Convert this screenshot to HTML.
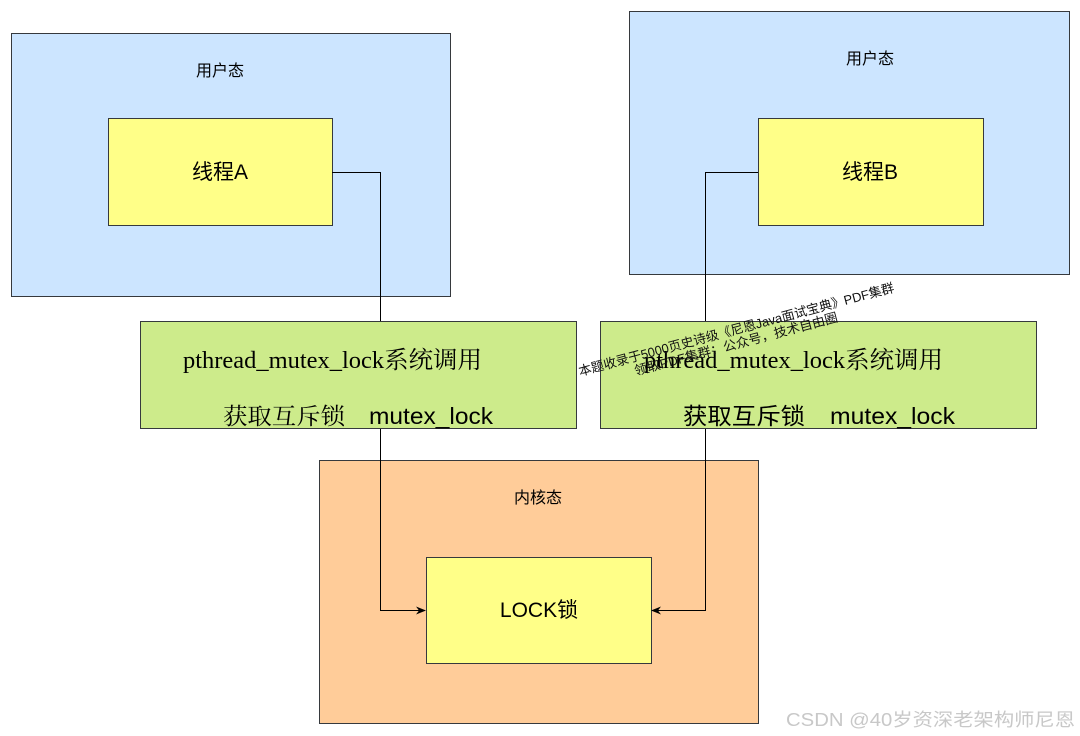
<!DOCTYPE html>
<html><head><meta charset="utf-8"><style>
html,body{margin:0;padding:0;background:#fff;}
svg{display:block;}
.s{font-family:"Liberation Sans","Noto Sans CJK SC",sans-serif;}
.t{font-family:"Liberation Serif","Noto Serif CJK SC",serif;}
</style></head><body>
<svg width="1080" height="736" viewBox="0 0 1080 736" xmlns="http://www.w3.org/2000/svg">
<defs><marker id="ar" markerWidth="10" markerHeight="10" refX="9" refY="5" orient="auto" markerUnits="userSpaceOnUse"><path d="M0,1 L10,5 L0,9 L3,5 z" fill="#000"/></marker></defs>
<rect x="11.5" y="33.5" width="439" height="263" fill="#cce5ff" stroke="#36393d"/>
<rect x="629.5" y="11.5" width="440" height="263" fill="#cce5ff" stroke="#36393d"/>
<text x="220" y="76" class="s" font-size="16" text-anchor="middle">用户态</text>
<text x="870" y="64" class="s" font-size="16" text-anchor="middle">用户态</text>
<rect x="108.5" y="118.5" width="224" height="107" fill="#ffff88" stroke="#36393d"/>
<rect x="758.5" y="118.5" width="225" height="107" fill="#ffff88" stroke="#36393d"/>
<text x="220" y="179" class="s" font-size="21" text-anchor="middle">线程A</text>
<text x="870" y="179" class="s" font-size="21" text-anchor="middle">线程B</text>
<rect x="319.5" y="460.5" width="439" height="263" fill="#ffcc99" stroke="#36393d"/>
<text x="538" y="503" class="s" font-size="16" text-anchor="middle">内核态</text>
<rect x="426.5" y="557.5" width="225" height="106" fill="#ffff88" stroke="#36393d"/>
<text x="539" y="617" class="s" font-size="21" text-anchor="middle">LOCK锁</text>
<path d="M332,172.5 H380.5 V321" fill="none" stroke="#000"/>
<path d="M758,172.5 H705.5 V321" fill="none" stroke="#000"/>
<path d="M380.5,428 V610.5 H425" fill="none" stroke="#000" marker-end="url(#ar)"/>
<path d="M705.5,428 V610.5 H652" fill="none" stroke="#000" marker-end="url(#ar)"/>
<rect x="140.5" y="321.5" width="436" height="107" fill="#cdeb8b" stroke="#36393d"/>
<rect x="600.5" y="321.5" width="436" height="107" fill="#cdeb8b" stroke="#36393d"/>
<text x="183" y="368" class="t" font-size="24" textLength="299" lengthAdjust="spacingAndGlyphs">pthread_mutex_lock系统调用</text>
<text x="223" y="424" class="t" font-size="23" textLength="122" lengthAdjust="spacingAndGlyphs">获取互斥锁</text>
<text x="369" y="424" class="s" font-size="23" textLength="124" lengthAdjust="spacingAndGlyphs">mutex_lock</text>
<text x="644" y="368" class="t" font-size="24" textLength="299" lengthAdjust="spacingAndGlyphs">pthread_mutex_lock系统调用</text>
<text x="683" y="424" class="s" font-size="23" textLength="122" lengthAdjust="spacingAndGlyphs">获取互斥锁</text>
<text x="830" y="424" class="s" font-size="23" textLength="125" lengthAdjust="spacingAndGlyphs">mutex_lock</text>
<g transform="rotate(-15 580 376)" class="s" font-size="13" fill="#111">
<text x="580" y="376" textLength="326" lengthAdjust="spacingAndGlyphs">本题收录于5000页史诗级《尼恩Java面试宝典》PDF集群</text>
<text x="634" y="390" textLength="210" lengthAdjust="spacingAndGlyphs">领取PDF集群：公众号，技术自由圈</text>
</g>
<text x="786" y="726" class="s" font-size="18" fill="#c8c8c8" textLength="289" lengthAdjust="spacingAndGlyphs">CSDN @40岁资深老架构师尼恩</text>
</svg>
</body></html>
